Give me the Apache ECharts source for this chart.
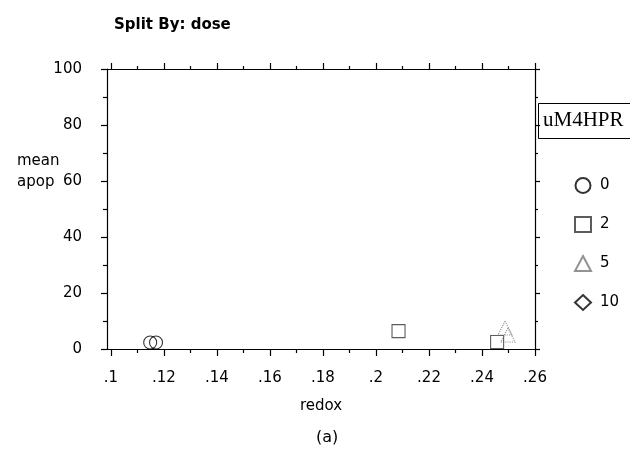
<!DOCTYPE html>
<html><head><meta charset="utf-8">
<script src="https://cdn.jsdelivr.net/npm/echarts@6/dist/echarts.min.js"></script>
<style>html,body{margin:0;padding:0;background:#fff}#c{width:630px;height:451px}</style>
</head><body><div id="c"></div>
<script>
const doseNames = ['0', '2', '5', '10'];
const redox0 = [0.1148, 0.1170];
const apop0 = [2.3, 2.3];
const redox2 = [0.2085, 0.2457];
const apop2 = [6.4, 2.5];
const redox5 = [0.2487, 0.2498];
const apop5 = [7.5, 5.0];
const redox10 = [];
const apop10 = [];
const xLabelValues = [0.1, 0.12, 0.14, 0.16, 0.18, 0.2, 0.22, 0.24, 0.26];
const xMinorValues = [0.11, 0.13, 0.15, 0.17, 0.19, 0.21, 0.23, 0.25];
const yTicks = [0, 20, 40, 60, 80, 100];

const F = '"DejaVu Sans", Verdana, sans-serif';
const pairs = (xs, ys) => xs.map((x, i) => [x, ys[i]]);
const fmtX = v => String(+v.toFixed(2)).replace(/^0\./, '.');

const chart = echarts.init(document.getElementById('c'));
const lineStyle = {color: '#000', width: 1.2};
const baseX = {
  type: 'value', min: 0.0985, max: 0.26, gridIndex: 0,
  splitLine: {show: false},
  axisLine: {show: true, onZero: false, lineStyle: lineStyle}
};
chart.setOption({
  animation: false,
  backgroundColor: '#fff',
  grid: {left: 107, right: 95, top: 69, bottom: 102},
  title: [
    {text: 'Split By: dose', left: 109, top: 13, textStyle: {fontFamily: F, fontWeight: 'bold', fontSize: 15, color: '#000'}},
    {text: 'mean\napop', left: 12, top: 146, textStyle: {fontFamily: F, fontWeight: 'normal', fontSize: 15, lineHeight: 21, color: '#000'}},
    {text: '(a)', left: 311, top: 425, textStyle: {fontFamily: F, fontWeight: 'normal', fontSize: 16, color: '#000'}}
  ],
  xAxis: [
    Object.assign({}, baseX, {
      position: 'bottom', name: 'redox', nameLocation: 'middle', nameGap: 50,
      nameTextStyle: {fontFamily: F, fontSize: 15, color: '#000'},
      axisTick: {show: true, inside: false, length: 7, customValues: xLabelValues, lineStyle: lineStyle},
      axisLabel: {show: true, customValues: xLabelValues, formatter: fmtX, fontFamily: F, fontSize: 15, color: '#000', margin: 22}
    }),
    Object.assign({}, baseX, {
      position: 'bottom',
      axisTick: {show: true, inside: false, length: 4, customValues: xMinorValues, lineStyle: lineStyle},
      axisLabel: {show: false}
    }),
    Object.assign({}, baseX, {
      position: 'top',
      axisTick: {show: true, inside: false, length: 6, customValues: xLabelValues, lineStyle: lineStyle},
      axisLabel: {show: false}
    }),
    Object.assign({}, baseX, {
      position: 'top',
      axisTick: {show: true, inside: false, length: 3, customValues: xMinorValues, lineStyle: lineStyle},
      axisLabel: {show: false}
    })
  ],
  yAxis: [
    {
      type: 'value', min: 0, max: 100, interval: 20, position: 'left',
      splitLine: {show: false},
      axisLine: {show: true, onZero: false, lineStyle: lineStyle},
      axisTick: {show: true, inside: false, length: 6, lineStyle: lineStyle},
      minorTick: {show: true, splitNumber: 2, length: 4, lineStyle: lineStyle},
      axisLabel: {fontFamily: F, fontSize: 15, color: '#000', margin: 25, customValues: yTicks}
    },
    {
      type: 'value', min: 0, max: 100, interval: 20, position: 'right',
      splitLine: {show: false},
      axisLine: {show: true, onZero: false, lineStyle: lineStyle},
      axisTick: {show: true, inside: false, length: 5, lineStyle: lineStyle},
      minorTick: {show: true, splitNumber: 2, length: 3, lineStyle: lineStyle},
      axisLabel: {show: false}
    }
  ],
  legend: {
    orient: 'vertical', left: 569, top: 172, itemGap: 22, itemWidth: 16, itemHeight: 15,
    data: doseNames,
    textStyle: {fontFamily: F, fontSize: 15, color: '#000', padding: [0, 0, 0, 4]}
  },
  graphic: [
    {type: 'rect', left: 538, top: 103, shape: {width: 100, height: 35},
     style: {fill: '#fff', stroke: '#000', lineWidth: 1}},
    {type: 'text', left: 543, top: 110,
     style: {text: 'uM4HPR', font: '21px "Liberation Serif", "DejaVu Serif", serif', fill: '#000'}}
  ],
  series: [
    {name: doseNames[0], type: 'scatter', symbol: 'circle', symbolSize: 13, data: pairs(redox0, apop0),
     itemStyle: {color: 'rgba(255,255,255,0)', borderColor: '#000', borderWidth: 1.1}},
    {name: doseNames[1], type: 'scatter', symbol: 'rect', symbolSize: 13, data: pairs(redox2, apop2),
     itemStyle: {color: 'rgba(255,255,255,0)', borderColor: '#333', borderWidth: 1.1}},
    {name: doseNames[2], type: 'scatter', symbol: 'triangle', symbolSize: 14, data: pairs(redox5, apop5),
     itemStyle: {color: 'rgba(255,255,255,0)', borderColor: '#777', borderWidth: 1.1, borderType: 'dotted'}},
    {name: doseNames[3], type: 'scatter', symbol: 'diamond', symbolSize: 15, data: pairs(redox10, apop10),
     itemStyle: {color: 'rgba(255,255,255,0)', borderColor: '#000', borderWidth: 1.1}}
  ]
});
</script></body></html>
